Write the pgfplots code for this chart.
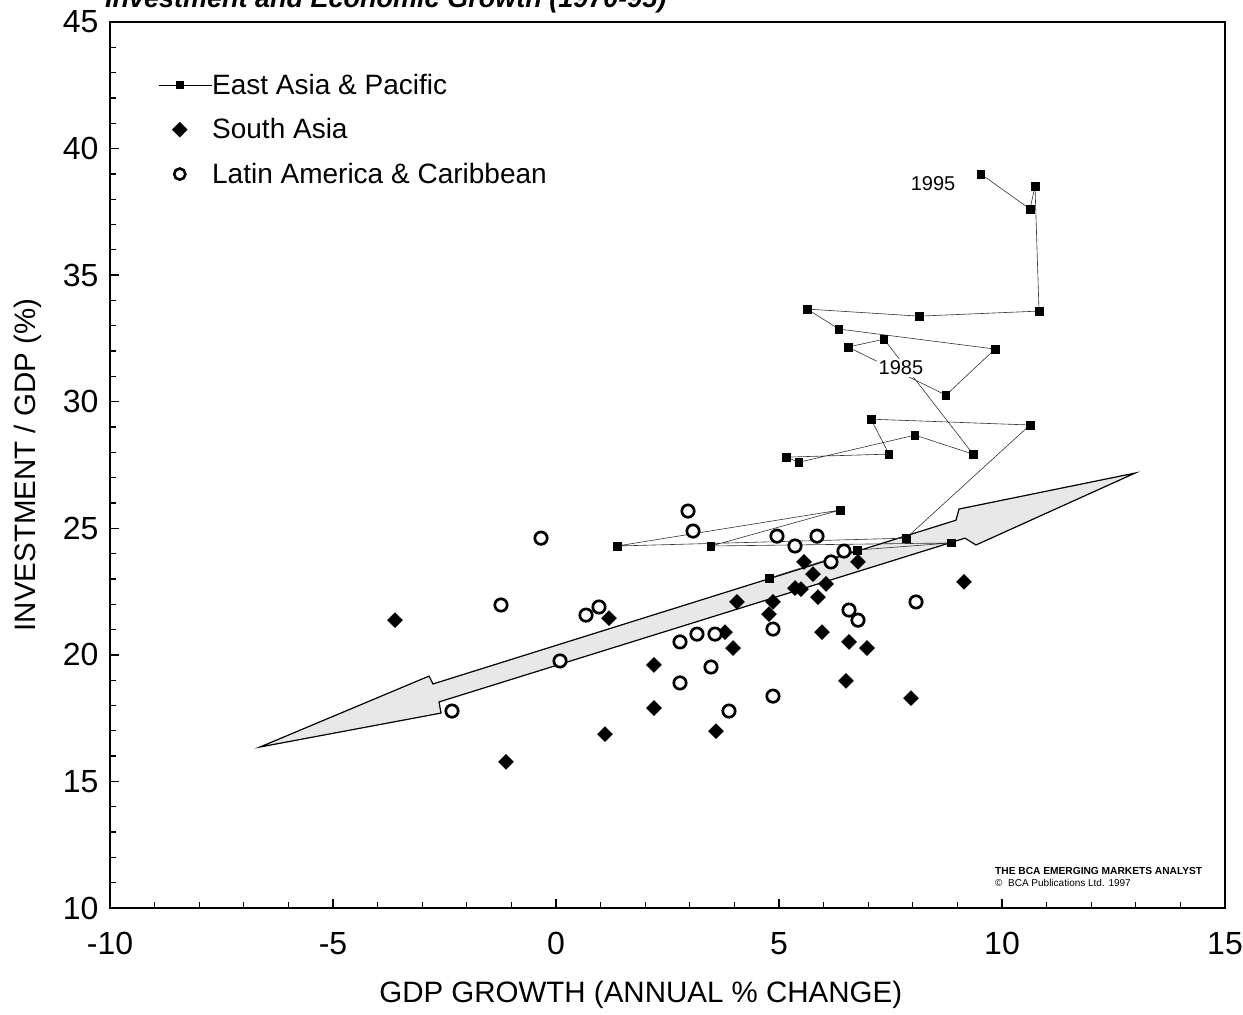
\documentclass[border=0pt]{standalone}
\usepackage{fontspec}
\setmainfont{Liberation Sans}
\usepackage{pgfplots}
\pgfplotsset{compat=1.18}
\begin{document}
\begin{tikzpicture}
\begin{axis}[
  name=ax,
  at={(0pt,0pt)}, anchor=south west,
  scale only axis, width=1115pt, height=886pt,
  xmin=-10, xmax=15, ymin=10, ymax=45,
  xtick={-10,-5,0,5,10,15}, xticklabels={-10,-5,0,5,10,15},
  ytick={10,15,20,25,30,35,40,45}, yticklabels={10,15,20,25,30,35,40,45},
  minor xtick={-9,-8,-7,-6,-4,-3,-2,-1,1,2,3,4,6,7,8,9,11,12,13,14},
  minor ytick={11,12,13,14,16,17,18,19,21,22,23,24,26,27,28,29,31,32,33,34,36,37,38,39,41,42,43,44},
  xtick pos=bottom, ytick pos=left, tick align=inside,
  major tick length=9pt, minor tick length=6pt,
  every tick/.style={black, line width=1.3pt},
  axis line style={line width=1.8pt},
  tick label style={font=\fontsize{32}{37}\selectfont},
  xticklabel style={yshift=-21pt},
  yticklabel style={xshift=-8pt},
  xlabel={GDP GROWTH (ANNUAL \% CHANGE)},
  ylabel={INVESTMENT / GDP (\%)},
  every axis x label/.style={at={(axis description cs:0.476,0)}, anchor=center, yshift=-87pt, font=\fontsize{29.5}{34}\selectfont},
  every axis y label/.style={at={(axis description cs:-0.0735,0.5)}, anchor=center, rotate=90, font=\fontsize{29.5}{34}\selectfont},
  legend style={at={(axis cs:-8.92,42.94)}, anchor=north west, draw=none, fill=none, inner sep=0pt,
    row sep=23pt, font=\fontsize{28}{33}\selectfont, nodes={inner sep=0pt}},
  legend cell align=left,
]
% trend arrow
\addplot[draw=black, line width=1.2pt, fill=black!9, line join=miter, forget plot] coordinates {
(-6.637,16.36) (-2.848,19.16) (-2.758,18.85) (8.969,25.32) (9.036,25.76) (12.982,27.18) (9.417,24.34) (9.170,24.61) (-2.623,18.14) (-2.578,17.70)
} -- cycle;
% East Asia & Pacific
\addplot[black!80, line width=0.6pt, mark=square*, mark size=3.7pt, mark options={black, fill=black, line width=0.4pt},
  legend image code/.code={\draw[black, line width=0.8pt] (0pt,0pt) -- (53pt,0pt); \fill[black] (17.5pt,-3.5pt) rectangle (24.5pt,3.5pt);}]
coordinates {
(4.776,23.03) (6.749,24.14) (8.857,24.42) (3.475,24.30) (6.368,25.72) (1.368,24.30) (7.848,24.61)
(10.628,29.08) (7.063,29.31) (7.466,27.93) (5.157,27.81) (5.448,27.61) (8.049,28.68) (9.350,27.93)
(7.354,32.47) (6.547,32.16) (8.744,30.26) (9.843,32.08) (6.345,32.87) (5.628,33.66) (8.139,33.38)
(10.830,33.58) (10.740,38.52) (10.628,37.61) (9.529,38.99)
};
\addlegendentry{\smash{East Asia \& Pacific}\rule{0pt}{20pt}}
\node[font=\fontsize{20}{24}\selectfont, fill=white, inner sep=1.5pt] at (axis cs:7.735,31.33) {1985};
\node[font=\fontsize{20}{24}\selectfont, inner sep=1pt] at (axis cs:8.453,38.63) {1995};
% South Asia
\addplot[only marks, mark=square*, mark size=5.3pt, mark options={rotate=45, black, fill=black},
  legend image code/.code={\path[draw=none,fill=none] (0pt,-5pt) rectangle (53pt,5pt); \fill[black] (21pt,-7.5pt) -- (28.5pt,0pt) -- (21pt,7.5pt) -- (13.5pt,0pt) -- cycle;}]
coordinates {
(-3.610,21.37) (-1.121,15.77) (1.188,21.45) (1.099,16.87) (2.197,19.60) (2.197,17.90) (3.587,16.99)
(3.789,20.90) (3.969,20.27) (4.058,22.09) (4.865,22.09) (4.776,21.61) (5.359,22.64) (5.493,22.60)
(5.561,23.67) (5.762,23.19) (5.874,22.28) (6.054,22.80) (5.964,20.90) (6.502,18.97) (6.570,20.51)
(6.771,23.67) (6.973,20.27) (7.960,18.29) (9.148,22.88)
};
\addlegendentry{\smash{South Asia}\rule{0pt}{20pt}}
% Latin America & Caribbean
\addplot[only marks, mark=*, mark size=6.2pt, mark options={draw=black, fill=white, line width=2.7pt},
  legend image code/.code={\path[draw=none,fill=none] (0pt,-5pt) rectangle (53pt,5pt); \draw[black, fill=white, line width=2.6pt] (21pt,0pt) circle (5.6pt);}]
coordinates {
(-2.332,17.78) (-1.233,21.97) (-0.336,24.61) (0.090,19.76) (0.673,21.57) (0.964,21.89) (2.780,20.51)
(2.780,18.89) (2.960,25.68) (3.072,24.89) (3.161,20.82) (3.475,19.52) (3.565,20.82) (3.879,17.78)
(4.955,24.69) (4.865,21.02) (4.865,18.37) (5.359,24.30) (5.852,24.69) (6.166,23.67) (6.457,24.10)
(6.570,21.77) (6.771,21.37) (8.072,22.09)
};
\addlegendentry{\smash{Latin America \& Caribbean}\rule{0pt}{20pt}}
% source note
\node[anchor=base west, inner sep=0pt, font=\fontsize{10.2}{12}\selectfont\bfseries] at (axis cs:9.843,11.34) {THE BCA EMERGING MARKETS ANALYST};
\node[anchor=base west, inner sep=0pt, font=\fontsize{10}{12}\selectfont] at (axis cs:9.843,10.83) {\textcopyright\ \ BCA Publications Ltd. 1997};
\end{axis}
\node[anchor=base west, inner sep=0pt, font=\fontsize{27}{32}\selectfont\bfseries\itshape] at ([xshift=-5pt,yshift=14pt]ax.north west) {Investment and Economic Growth (1970-95)};
\pgfresetboundingbox
\useasboundingbox (-110pt,-107pt) rectangle (1133pt,908pt);
\end{tikzpicture}
\end{document}
